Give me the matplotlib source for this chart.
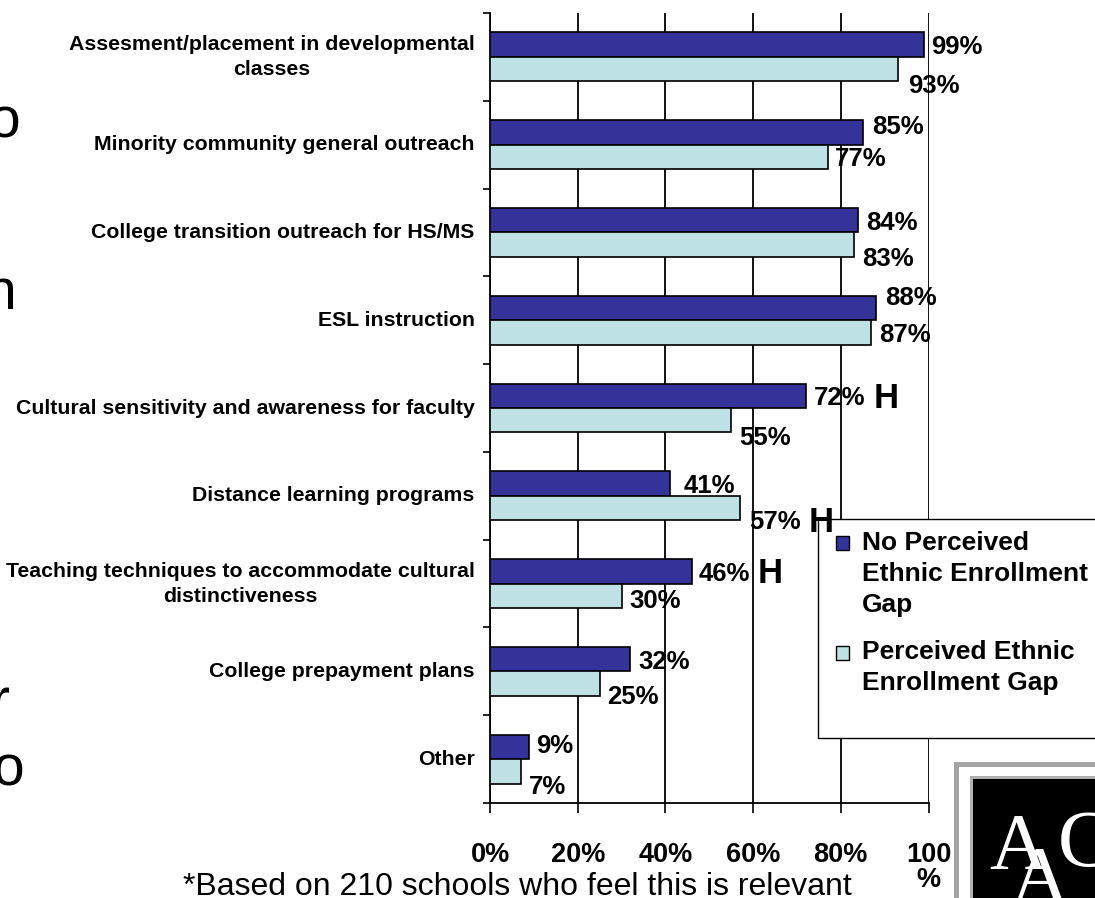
import matplotlib
matplotlib.use('Agg')
import matplotlib.pyplot as plt
from matplotlib.patches import Rectangle
from matplotlib.transforms import Affine2D
import numpy as np

plt.rcParams['font.family'] = ['Liberation Sans', 'DejaVu Sans']

# ---------------- data ----------------
categories = [
    'Assesment/placement in developmental\nclasses',
    'Minority community general outreach',
    'College transition outreach for HS/MS',
    'ESL instruction',
    'Cultural sensitivity and awareness for faculty',
    'Distance learning programs',
    'Teaching techniques to accommodate cultural\ndistinctiveness',
    'College prepayment plans',
    'Other',
]
no_gap = [99, 85, 84, 88, 72, 41, 46, 32, 9]
gap = [93, 77, 83, 87, 55, 57, 30, 25, 7]
no_gap_flag = ['', '', '', '', 'H', '', 'H', '', '']
gap_flag = ['', '', '', '', '', 'H', '', '', '']
series_names = ['No Perceived\nEthnic Enrollment\nGap', 'Perceived Ethnic\nEnrollment Gap']
x_ticks = [0, 20, 40, 60, 80, 100]
x_tick_labels = ['0%', '20%', '40%', '60%', '80%', '100\n%']
footnote = '*Based on 210 schools who feel this is relevant'
slide_fragments = ['o', 'n', 'r', 'o']

# ---------------- styles / offsets ----------------
DARK = '#333399'
LIGHT = '#bde1e4'
no_gap_dx = [7, 9, 8, 9, 8, 14, 7, 8, 7]
no_gap_dy = [0, -8, 0, -13, 0, 0, 0, 0, -3]
gap_dx = [10, 7, 8, 8, 8, 9, 8, 8, 8]
gap_dy = [14, 0, 12, 0, 15, 12, 3, 11, 13]

W, H = 1095, 898
fig = plt.figure(figsize=(W / 100, H / 100), dpi=100)
pxt = Affine2D().scale(1 / W, -1 / H).translate(0, 1) + fig.transFigure

ax_l, ax_r, ax_t, ax_b = 490, 928.5, 13, 803
ax = fig.add_axes([ax_l / W, 1 - ax_b / H, (ax_r - ax_l) / W, (ax_b - ax_t) / H])

n = len(categories)
y = np.arange(n)
bh = 0.278
ax.barh(y - bh / 2, no_gap, height=bh, color=DARK, edgecolor='black', linewidth=1.2, zorder=3)
ax.barh(y + bh / 2, gap, height=bh, color=LIGHT, edgecolor='black', linewidth=1.2, zorder=3)

ax.set_xlim(0, 100)
ax.set_ylim(n - 0.5, -0.5)

# gridlines
ax.set_xticks(x_ticks)
ax.set_xticklabels(x_tick_labels, fontsize=19.5, fontweight='bold', linespacing=0.95)
ax.grid(axis='x', color='black', linewidth=1.3, zorder=0)
ax.tick_params(axis='x', direction='out', length=7, width=1.2, pad=21)

ax.set_yticks(y)
ax.set_yticklabels(categories, fontsize=15.3, fontweight='bold')
for lab in ax.get_yticklabels():
    lab.set_multialignment('center')
    lab.set_linespacing(1.4)
    lab.set_verticalalignment('center')
ax.set_yticks(np.arange(n + 1) - 0.5, minor=True)
ax.tick_params(axis='y', which='major', length=0, pad=11)
ax.tick_params(axis='y', which='minor', direction='out', length=5, width=1.2)

for s in ['top', 'right']:
    ax.spines[s].set_visible(False)
for s in ['left', 'bottom']:
    ax.spines[s].set_linewidth(1.3)

# value labels + H marks
def put_labels(vals, ys, dxs, dys, flags):
    for v, yy, dx, dy, f in zip(vals, ys, dxs, dys, flags):
        t = ax.annotate(f'{v}%', xy=(v, yy), xytext=(dx, -dy), textcoords='offset pixels',
                        ha='left', va='center_baseline', fontsize=18.5, fontweight='bold',
                        zorder=6, annotation_clip=False)
        if f:
            ax.annotate(f, xy=(1, 0.5), xycoords=t, xytext=(8, 0), textcoords='offset pixels',
                        ha='left', va='center', fontsize=25, fontweight='bold', zorder=6,
                        annotation_clip=False)

put_labels(no_gap, y - bh / 2, no_gap_dx, no_gap_dy, no_gap_flag)
put_labels(gap, y + bh / 2, gap_dx, gap_dy, gap_flag)

# legend (manual, box extends beyond figure edge; covers gridlines, under H marks)
ax.add_patch(Rectangle((818, 519), 320, 219, transform=pxt, facecolor='white',
                       edgecolor='black', linewidth=1.0, zorder=4, clip_on=False))
for name, col, hy, by in zip(series_names, [DARK, LIGHT], [536, 646], [612, 690]):
    ax.add_patch(Rectangle((836, hy), 13, 14, transform=pxt, facecolor=col,
                           edgecolor='black', linewidth=1.0, zorder=5, clip_on=False))
    ax.text(862, by, name, transform=pxt, fontsize=19, fontweight='bold', ha='left',
            va='baseline', linespacing=1.36, zorder=5, clip_on=False)

# footnote
fig.text(183, 895, footnote, transform=pxt, fontsize=23, ha='left', va='baseline')

# cut-off slide text fragments at the left edge
for ch, fx, fy in zip(slide_fragments, [20, 16, 9, 24], [138, 309, 718, 786]):
    fig.text(fx, fy, ch, transform=pxt, fontsize=41, ha='right', va='baseline')

# logo (bottom right, partially cut)
fig.patches.append(Rectangle((954, 762), 200, 200, transform=pxt, facecolor='#a3a3a3', edgecolor='none', zorder=20))
fig.patches.append(Rectangle((959, 767), 200, 200, transform=pxt, facecolor='white', edgecolor='none', zorder=21))
fig.patches.append(Rectangle((970, 776), 200, 200, transform=pxt, facecolor='#b0b0b0', edgecolor='none', zorder=22))
fig.patches.append(Rectangle((973, 779), 200, 200, transform=pxt, facecolor='black', edgecolor='none', zorder=23))
for ch, lx, ly in zip(['A', 'A', 'C'], [989, 1010, 1058], [869, 902, 866]):
    fig.text(lx, ly, ch, transform=pxt, fontsize=58, family='Liberation Serif', color='white',
             ha='left', va='baseline', zorder=30)

fig.savefig('out.png', dpi=100)
